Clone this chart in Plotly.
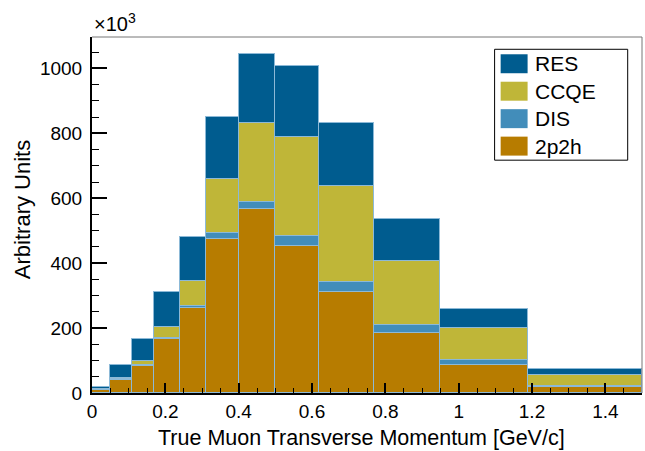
import plotly.graph_objects as go

# bin edges [GeV/c]
bin_edges = [0, 0.05, 0.11, 0.17, 0.24, 0.31, 0.40, 0.50, 0.62, 0.77, 0.95, 1.19, 1.5]

# stacked contributions (units of 10^3)
v_2p2h = [8, 41, 84, 165, 262, 476, 566, 454, 310, 185, 86, 18]
v_dis = [1, 1, 2, 3, 7, 16, 22, 29, 32, 26, 15, 5]
v_ccqe = [2, 5, 13, 36, 76, 167, 245, 306, 295, 196, 98, 32]
v_res = [8, 39, 67, 108, 136, 193, 211, 218, 194, 128, 60, 19]

series_names = ["2p2h", "DIS", "CCQE", "RES"]
series_vals = [v_2p2h, v_dis, v_ccqe, v_res]
series_cols = ["#B77C00", "#428DBA", "#BFB638", "#005C8F"]

centers = [(a + b) / 2 for a, b in zip(bin_edges[:-1], bin_edges[1:])]
widths = [b - a for a, b in zip(bin_edges[:-1], bin_edges[1:])]

FONT = "Liberation Sans, Arial, Helvetica, sans-serif"

fig = go.Figure()
for name, vals, col in zip(series_names, series_vals, series_cols):
    fig.add_trace(go.Bar(
        x=centers, y=vals, width=widths, name=name,
        marker=dict(color=col, line=dict(color="rgba(140,185,215,1)", width=1)),
        showlegend=False,
    ))

fig.update_layout(
    width=645, height=451,
    margin=dict(l=92, r=3, t=37, b=58),
    barmode="stack", bargap=0,
    plot_bgcolor="white", paper_bgcolor="white",
    font=dict(family=FONT, color="black"),
)
fig.update_xaxes(
    range=[0, 1.5], dtick=0.2, tick0=0,
    ticks="inside", ticklen=10, tickwidth=1.5, tickcolor="black",
    minor=dict(dtick=0.05, ticks="inside", ticklen=5, tickwidth=1, tickcolor="black"),
    showline=True, linecolor="black", linewidth=2,
    showgrid=False, zeroline=False,
    tickfont=dict(size=19, family=FONT, color="black"),
)
fig.update_yaxes(
    range=[0, 1097], dtick=200, tick0=0,
    ticks="inside", ticklen=15, tickwidth=1.5, tickcolor="black",
    minor=dict(dtick=50, ticks="inside", ticklen=7, tickwidth=1, tickcolor="black"),
    showline=True, linecolor="black", linewidth=2,
    showgrid=False, zeroline=False,
    tickfont=dict(size=19, family=FONT, color="black"),
    ticklabelstandoff=4,
)

# frame top/right
fig.add_shape(type="line", xref="paper", yref="paper", x0=0, x1=1, y0=1, y1=1,
              line=dict(color="#777777", width=1))
fig.add_shape(type="line", xref="paper", yref="paper", x0=1, x1=1, y0=0, y1=1,
              line=dict(color="#777777", width=1))

# axis titles
fig.add_annotation(text="True Muon Transverse Momentum [GeV/c]", xref="paper", yref="paper",
                   x=0.49, y=-0.125, showarrow=False, xanchor="center", yanchor="middle",
                   font=dict(size=21.5, family=FONT, color="black"))
fig.add_annotation(text="Arbitrary Units", xref="paper", yref="paper",
                   x=-0.127, y=0.514, showarrow=False, textangle=-90,
                   xanchor="center", yanchor="middle",
                   font=dict(size=22, family=FONT, color="black"))
fig.add_annotation(text="×10<sup>3</sup>", xref="paper", yref="paper",
                   x=0, y=1.0, showarrow=False, xanchor="left", yanchor="bottom",
                   font=dict(size=20, family=FONT, color="black"))

# custom legend
lx0, lx1, ly0, ly1 = 0.732, 0.974, 0.654, 0.9655
fig.add_shape(type="rect", xref="paper", yref="paper", x0=lx0, x1=lx1, y0=ly0, y1=ly1,
              line=dict(color="black", width=1), fillcolor="white")
ph = 356.6
leg_order = ["RES", "CCQE", "DIS", "2p2h"]
for i, nm in enumerate(leg_order):
    col = series_cols[series_names.index(nm)]
    cy_px = 63.5 + 27.5 * i
    cy = (393.3 - cy_px) / ph
    hh = 9.5 / ph
    fig.add_shape(type="rect", xref="paper", yref="paper",
                  x0=0.743, x1=0.792, y0=cy - hh, y1=cy + hh,
                  line=dict(width=0), fillcolor=col)
    fig.add_annotation(text=nm, xref="paper", yref="paper", x=0.801, y=cy,
                       showarrow=False, xanchor="left", yanchor="middle",
                       font=dict(size=21, family=FONT, color="black"))

fig.write_html("out.html")
